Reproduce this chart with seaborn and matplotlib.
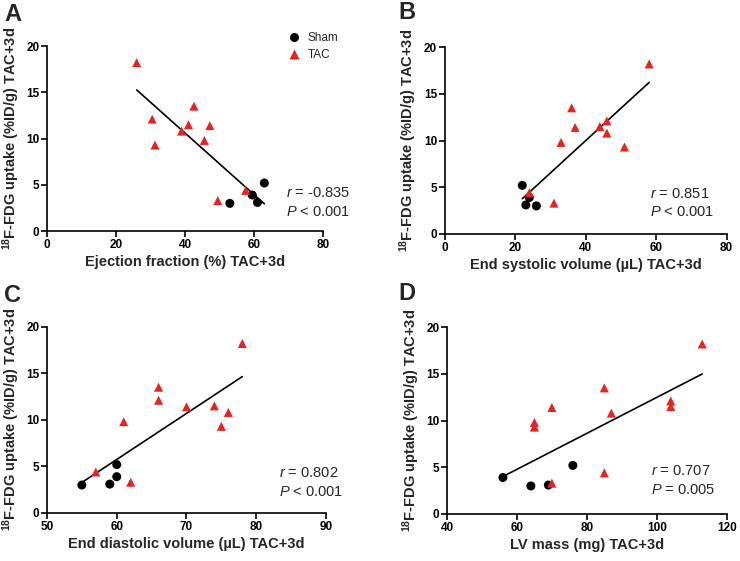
import numpy as np
import pandas as pd
import seaborn as sns
import matplotlib.pyplot as plt

# FDG uptake (%ID/g), shared across all four panels
sham_uptake = [5.2, 3.9, 3.0, 3.1]
tac_uptake = [18.2, 13.5, 12.1, 11.5, 11.4, 10.8, 9.8, 9.3, 4.4, 3.3]

# x values per panel (same ordering as uptake lists)
ef_sham = [63.0, 59.5, 53.0, 61.0]
ef_tac = [26.0, 42.6, 30.5, 41.0, 47.2, 39.0, 45.6, 31.3, 57.6, 49.5]
esv_sham = [22.0, 24.0, 26.0, 23.0]
esv_tac = [58.0, 36.0, 46.0, 44.0, 37.0, 46.0, 33.0, 51.0, 24.0, 31.0]
edv_sham = [60.0, 60.0, 55.0, 59.0]
edv_tac = [78.0, 66.0, 66.0, 74.0, 70.0, 76.0, 61.0, 75.0, 57.0, 62.0]
lvm_sham = [76.0, 56.0, 64.0, 69.0]
lvm_tac = [113.0, 85.0, 104.0, 104.0, 70.0, 87.0, 65.0, 65.0, 85.0, 70.0]

panel_letters = ['A', 'B', 'C', 'D']
x_labels = ['Ejection fraction (%) TAC+3d', 'End systolic volume (\u00b5L) TAC+3d',
            'End diastolic volume (\u00b5L) TAC+3d', 'LV mass (mg) TAC+3d']
stats_text = [('-0.835', '< 0.001'), ('0.851', '< 0.001'),
              ('0.802', '< 0.001'), ('0.707', '= 0.005')]
x_limits = [(0, 80), (0, 80), (50, 90), (40, 120)]
x_steps = [20, 20, 10, 20]
y_ticks = [0, 5, 10, 15, 20]

sns.set_style('ticks')
plt.rcParams['font.family'] = ['Liberation Sans', 'DejaVu Sans']
plt.rcParams['font.weight'] = 'bold'
plt.rcParams['mathtext.fontset'] = 'custom'
plt.rcParams['mathtext.rm'] = 'Liberation Sans:weight=normal'
plt.rcParams['mathtext.it'] = 'Liberation Sans:style=italic:weight=normal'
plt.rcParams['mathtext.bf'] = 'Liberation Sans:weight=bold'


def make_df(x_sham, x_tac):
    return pd.DataFrame({
        'x': x_sham + x_tac,
        'uptake': sham_uptake + tac_uptake,
        'group': ['Sham'] * len(x_sham) + ['TAC'] * len(x_tac),
    })


frames = [make_df(ef_sham, ef_tac), make_df(esv_sham, esv_tac),
          make_df(edv_sham, edv_tac), make_df(lvm_sham, lvm_tac)]

fig = plt.figure(figsize=(7.4, 5.61), dpi=100)
positions = [[0.0635, 0.588, 0.373, 0.330], [0.601, 0.583, 0.381, 0.333],
             [0.0635, 0.0856, 0.377, 0.332], [0.604, 0.0838, 0.378, 0.333]]
letter_pos = [(0.006, 0.975), (0.538, 0.978), (0.006, 0.474), (0.538, 0.476)]
text_pos = [(0.866, 0.205), (0.727, 0.215), (0.832, 0.215), (0.729, 0.23)]

pal = {'Sham': 'black', 'TAC': '#E8231E'}
marks = {'Sham': 'o', 'TAC': '^'}

for i, df in enumerate(frames):
    ax = fig.add_axes(positions[i])
    sns.scatterplot(data=df, x='x', y='uptake', hue='group', style='group',
                    palette=pal, markers=marks, s=42, edgecolor='none',
                    legend=(i == 0), ax=ax, zorder=3, clip_on=False)
    sns.regplot(data=df, x='x', y='uptake', scatter=False, ci=None, truncate=True,
                color='black', line_kws={'lw': 1.2}, ax=ax)
    ax.set_xlim(*x_limits[i])
    ax.set_ylim(0, 20)
    ax.set_xticks(np.arange(x_limits[i][0], x_limits[i][1] + 1, x_steps[i]))
    ax.set_yticks(y_ticks)
    sns.despine(ax=ax)
    for sp in ['left', 'bottom']:
        ax.spines[sp].set_linewidth(1.2)
        ax.spines[sp].set_color('black')
    ax.tick_params(axis='both', direction='out', length=4, width=1.2,
                   labelsize=8.5, pad=1.5, colors='black')
    ax.set_xlabel(x_labels[i], fontsize=10.5, fontweight='bold', labelpad=3)
    ax.set_ylabel(r'$^{\mathbf{18}}$F-FDG uptake (%ID/g) TAC+3d',
                  fontsize=10.5, fontweight='bold')
    ax.yaxis.set_label_coords(-0.09, 0.5)

    r_val, p_val = stats_text[i]
    tx, ty = text_pos[i]
    ax.text(tx, ty, r'$r$ = ' + r_val, transform=ax.transAxes, fontsize=10.5,
            fontweight='normal', ha='left', va='center', clip_on=False)
    ax.text(tx, ty - 0.1, r'$P$ ' + p_val, transform=ax.transAxes, fontsize=10.5,
            fontweight='normal', ha='left', va='center', clip_on=False)

    fig.text(letter_pos[i][0], letter_pos[i][1], panel_letters[i], fontsize=17,
             fontweight='bold', ha='left', va='center')

    if i == 0:
        handles, labels = ax.get_legend_handles_labels()
        leg = ax.legend(handles, labels, loc='upper left', bbox_to_anchor=(0.872, 1.075),
                        frameon=False, fontsize=8.5, borderaxespad=0, borderpad=0,
                        handlelength=1.0, handletextpad=0.7, labelspacing=0.4)
        for t in leg.get_texts():
            t.set_fontweight('normal')

plt.savefig('out.png', dpi=100)
